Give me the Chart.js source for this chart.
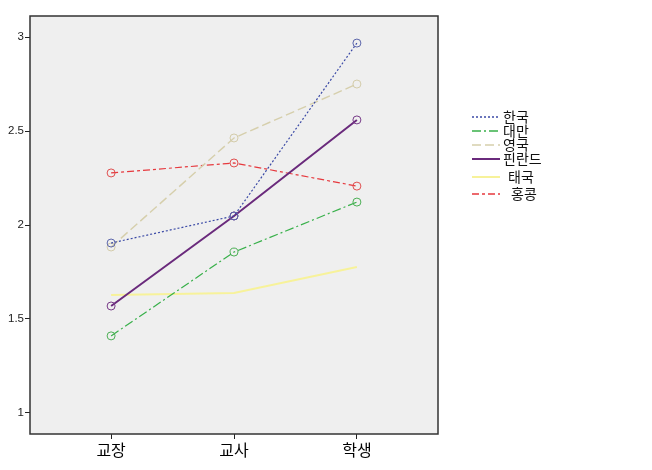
<!DOCTYPE html>
<html>
<head>
<meta charset="utf-8">
<script src="https://cdn.jsdelivr.net/npm/chart.js@4"></script>
<style>
  html, body { margin: 0; padding: 0; background: #fff; }
  #wrap { width: 652px; height: 470px; position: relative; }
</style>
</head>
<body>
<div id="wrap"><canvas id="chart"></canvas></div>
<script>
/* ─── Data ────────────────────────────────────────────── */
const categories = ['교장', '교사', '학생'];
const yTicks = [1, 1.5, 2, 2.5, 3];

const korea    = [1.904, 2.048, 2.968];
const taiwan   = [1.410, 1.856, 2.122];
const uk       = [1.883, 2.463, 2.750];
const finland  = [1.569, 2.048, 2.559];
const thailand = [1.628, 1.638, 1.777];
const hongkong = [2.277, 2.330, 2.207];

const toPoints = arr => arr.map((v, i) => ({ x: i, y: v }));

/* ─── Series styles ───────────────────────────────────── */
const series = [
  { label: '한국',   data: korea,    color: '#3b4aa6', point: '#5a64aa', dash: [2, 2],        width: 1.2, radius: 4 },
  { label: '대만',   data: taiwan,   color: '#38b04a', point: '#4caf55', dash: [9, 3, 2, 3],  width: 1.2, radius: 4 },
  { label: '영국',   data: uk,       color: '#d6cfac', point: '#d4ccaa', dash: [9, 4],        width: 1.4, radius: 4 },
  { label: '핀란드', data: finland,  color: '#6a2a7c', point: '#773a88', dash: [],            width: 2,   radius: 4 },
  { label: '태국',   data: thailand, color: '#f7f29a', point: '#f7f29a', dash: [],            width: 2,   radius: 0 },
  { label: '홍콩',   data: hongkong, color: '#e6393e', point: '#e05050', dash: [7, 3, 3, 3],  width: 1.2, radius: 4 },
];

/* ─── Plugins ─────────────────────────────────────────── */
const plotFrame = {
  id: 'plotFrame',
  beforeDraw(chart) {
    const { ctx, chartArea: a } = chart;
    ctx.save();
    ctx.fillStyle = '#efefef';
    ctx.fillRect(a.left, a.top, a.right - a.left, a.bottom - a.top);
    ctx.restore();
  },
  afterDraw(chart) {
    const { ctx, chartArea: a } = chart;
    ctx.save();
    ctx.strokeStyle = '#333';
    ctx.lineWidth = 1.5;
    ctx.strokeRect(a.left, a.top, a.right - a.left, a.bottom - a.top);
    ctx.restore();
  }
};

const legendRows = [117, 131, 145, 159, 177, 194];
const legendTextX = [503, 503, 503, 503, 508, 511];
const sideLegend = {
  id: 'sideLegend',
  afterDraw(chart) {
    const ctx = chart.ctx;
    ctx.save();
    chart.data.datasets.forEach((ds, i) => {
      const y = legendRows[i];
      ctx.beginPath();
      ctx.strokeStyle = ds.borderColor;
      ctx.lineWidth = Math.max(ds.borderWidth, 1.5);
      ctx.setLineDash(ds.borderDash || []);
      ctx.moveTo(472, y);
      ctx.lineTo(500, y);
      ctx.stroke();
      ctx.setLineDash([]);
      ctx.fillStyle = '#111';
      ctx.font = "14px 'Noto Sans CJK KR', sans-serif";
      ctx.textBaseline = 'middle';
      ctx.textAlign = 'left';
      ctx.fillText(ds.label, legendTextX[i], y);
    });
    ctx.restore();
  }
};

/* ─── Chart ───────────────────────────────────────────── */
new Chart(document.getElementById('chart'), {
  type: 'line',
  data: {
    datasets: series.map(s => ({
      label: s.label,
      data: toPoints(s.data),
      borderColor: s.color,
      borderWidth: s.width,
      borderDash: s.dash,
      pointRadius: s.radius,
      pointBorderColor: s.point,
      pointBackgroundColor: 'rgba(0,0,0,0)',
      pointBorderWidth: 1,
      fill: false,
      tension: 0,
    }))
  },
  options: {
    responsive: true, maintainAspectRatio: false, animation: false,
    layout: { padding: { top: 16, right: 214, left: 0, bottom: 0 } },
    plugins: { legend: { display: false }, tooltip: { enabled: false } },
    scales: {
      x: {
        type: 'linear', min: -0.66, max: 2.66,
        afterBuildTicks: s => { s.ticks = categories.map((c, i) => ({ value: i })); },
        afterFit: s => { s.height = 36; },
        grid: { drawOnChartArea: false, drawTicks: true, tickLength: 5, color: '#222' },
        border: { display: false },
        ticks: {
          color: '#000', padding: 1,
          font: { family: "'Noto Sans CJK KR', sans-serif", size: 16 },
          callback: v => categories[v]
        }
      },
      y: {
        min: 0.888, max: 3.112,
        afterBuildTicks: s => { s.ticks = yTicks.map(v => ({ value: v })); },
        afterFit: s => { s.width = 30; },
        grid: { drawOnChartArea: false, drawTicks: true, tickLength: 5, color: '#222' },
        border: { display: false },
        ticks: {
          color: '#222', padding: 1,
          font: { family: "'Liberation Sans', Arial, sans-serif", size: 11.5 },
          callback: v => String(v)
        }
      }
    }
  },
  plugins: [plotFrame, sideLegend]
});
</script>
</body>
</html>
